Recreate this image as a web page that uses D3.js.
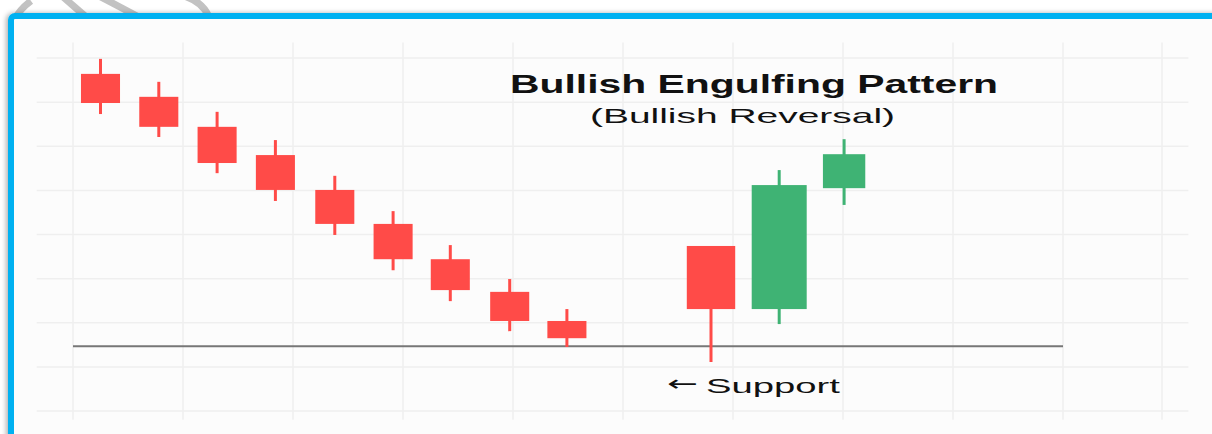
<!DOCTYPE html>
<html>
<head>
<meta charset="UTF-8">
<style>
  body { margin: 0; background: #fff; }
  svg { display: block; }
  text { font-family: "Liberation Sans", Arial, sans-serif; fill: #111; }
</style>
</head>
<body>
<svg></svg>
<script src="https://d3js.org/d3.v7.min.js"></script>
<script>
// candles: slot = position in grid columns, prices in arbitrary units
const slots  = [0.25, 0.78, 1.31, 1.84, 2.38, 2.91, 3.43, 3.97, 4.49, 5.80, 6.42, 7.01];
const opens  = [176.4, 171.2, 164.4, 158.0, 150.1, 142.4, 134.4, 127.0, 120.4, 137.4, 123.1, 150.5];
const closes = [169.8, 164.4, 156.2, 150.1, 142.4, 134.4, 127.4, 120.4, 116.5, 123.1, 151.2, 158.2];
const highs  = [179.8, 174.6, 167.8, 161.4, 153.3, 145.3, 137.6, 129.9, 123.1, 137.4, 154.6, 161.6];
const lows   = [167.3, 162.1, 153.9, 147.6, 139.9, 131.9, 124.9, 118.1, 114.5, 111.1, 119.7, 146.7];
const supportLevel = 114.7;
const gridCols = [0, 1, 2, 3, 4, 5, 6, 7, 8, 9, 9.9];
const gridRows = [100, 110, 120, 130, 140, 150, 160, 170, 180];

let width = 1212, height = 434;

const svg = d3.select("svg")
    .attr("width", width)
    .attr("height", height);

const x = d3.scaleLinear().domain([0, 9]).range([73, 1063]);
const y = d3.scaleLinear().domain([100, 180]).range([411, 58]);

// body widths (grid columns) - last three candles are wider
const bodyW = [0.355, 0.355, 0.355, 0.355, 0.355, 0.355, 0.355, 0.355, 0.355, 0.44, 0.5, 0.385];

const candles = slots.map((s, i) => ({
    slot: s, open: opens[i], close: closes[i], high: highs[i], low: lows[i], w: bodyW[i]
}));

const defs = svg.append("defs");
defs.append("filter").attr("id", "shadow")
    .attr("x", "-5%").attr("y", "-5%").attr("width", "110%").attr("height", "110%")
    .append("feDropShadow")
    .attr("dx", -2).attr("dy", 0).attr("stdDeviation", 2.5)
    .attr("flood-color", "#000").attr("flood-opacity", 0.3);

// decorative grey strokes above the frame
const marks = ["M15 19 Q20 9 31 1", "M62 -4 L85 16", "M99 -4 L137 16", "M184 -4 Q203 2 209 17"];
svg.append("g").selectAll("path").data(marks).enter().append("path")
    .attr("d", d => d)
    .attr("fill", "none")
    .attr("stroke", "#c2c2c2")
    .attr("stroke-width", 7);

// frame
svg.append("rect")
    .attr("x", 11).attr("y", 16)
    .attr("width", 1260).attr("height", 480)
    .attr("rx", 4)
    .attr("fill", "#fcfcfc")
    .attr("stroke", "#00b1f1")
    .attr("stroke-width", 6)
    .attr("filter", "url(#shadow)");

// grid
const grid = svg.append("g").attr("stroke", "#efefef").attr("stroke-width", 1.5);
grid.selectAll(".h").data(gridRows).enter().append("line")
    .attr("x1", x(-0.33)).attr("x2", x(10.14))
    .attr("y1", d => y(d)).attr("y2", d => y(d));
grid.selectAll(".v").data(gridCols).enter().append("line")
    .attr("x1", d => x(d)).attr("x2", d => x(d))
    .attr("y1", y(183.5)).attr("y2", y(98));

// support line
svg.append("line")
    .attr("x1", x(0)).attr("x2", x(9))
    .attr("y1", y(supportLevel)).attr("y2", y(supportLevel))
    .attr("stroke", "#777")
    .attr("stroke-width", 2);

// candles
const colour = d => d.close >= d.open ? "#3fb374" : "#ff4b48";
const cg = svg.append("g");
cg.selectAll(".wick").data(candles).enter().append("line")
    .attr("x1", d => x(d.slot)).attr("x2", d => x(d.slot))
    .attr("y1", d => y(d.high)).attr("y2", d => y(d.low))
    .attr("stroke", colour)
    .attr("stroke-width", 3);
cg.selectAll(".body").data(candles).enter().append("rect")
    .attr("x", d => x(d.slot - d.w / 2))
    .attr("width", d => x(d.w) - x(0))
    .attr("y", d => y(Math.max(d.open, d.close)))
    .attr("height", d => y(Math.min(d.open, d.close)) - y(Math.max(d.open, d.close)))
    .attr("fill", colour);

// texts
svg.append("text")
    .attr("x", 510).attr("y", 93)
    .attr("font-size", 25).attr("font-weight", "bold")
    .attr("textLength", 488).attr("lengthAdjust", "spacingAndGlyphs")
    .text("Bullish Engulfing Pattern");

svg.append("text")
    .attr("x", 590).attr("y", 123)
    .attr("font-size", 21)
    .attr("textLength", 305).attr("lengthAdjust", "spacingAndGlyphs")
    .text("(Bullish Reversal)");

svg.append("text")
    .attr("x", 667).attr("y", 391)
    .attr("font-size", 22)
    .style("font-family", "'DejaVu Sans', sans-serif")
    .attr("textLength", 31).attr("lengthAdjust", "spacingAndGlyphs")
    .text("←");

svg.append("text")
    .attr("x", 706).attr("y", 393)
    .attr("font-size", 21)
    .attr("textLength", 134).attr("lengthAdjust", "spacingAndGlyphs")
    .text("Support");
</script>
</body>
</html>
